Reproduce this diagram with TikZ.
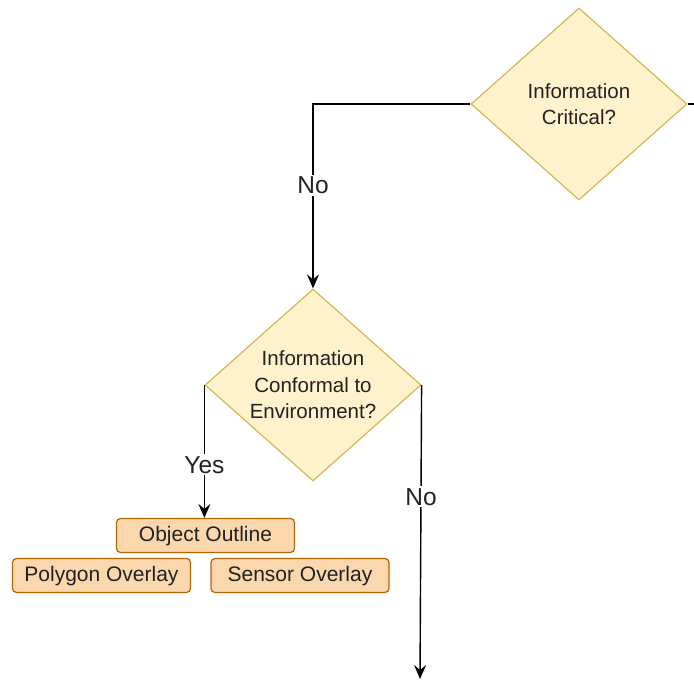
\documentclass[tikz,border=0pt]{standalone}
\usepackage{fontspec}
\setmainfont{Liberation Sans}
\usetikzlibrary{shapes.geometric,arrows.meta}
\definecolor{decfill}{HTML}{FFF2CC}
\definecolor{decdraw}{HTML}{D6B656}
\definecolor{boxfill}{HTML}{FAD7AC}
\definecolor{boxdraw}{HTML}{B46504}
\definecolor{ink}{HTML}{222222}
\begin{document}
\begin{tikzpicture}[x=1pt,y=-1pt,
  decision/.style={diamond,aspect=1.125,draw=decdraw,fill=decfill,line width=1.2pt,
    minimum width=216pt,minimum height=192pt,inner sep=0pt,align=center,text=ink,
    font=\fontsize{20.5}{26.5}\selectfont},
  leaf/.style={rectangle,rounded corners=4pt,draw=boxdraw,fill=boxfill,line width=1.2pt,
    minimum width=178pt,minimum height=34pt,inner sep=0pt,text=ink,
    text height=14pt,text depth=3pt,
    font=\fontsize{21}{24}\selectfont},
  flow/.style={line width=1.4pt,black},
  arrowflow/.style={flow,-{Stealth[length=14pt,width=12pt,inset=5pt]}},
  lbl/.style={fill=white,inner sep=2pt,text=ink,font=\fontsize{24.5}{28}\selectfont}]
\useasboundingbox[fill=white] (0,0) rectangle (694,681);

% decisions
\node[decision] (crit) at (579,104) {Information\\Critical?};
\node[decision] (conf) at (313,385) {Information\\Conformal to\\Environment?};

% outcome boxes
\node[leaf] (outline) at (205.5,535.5) {Object Outline};
\node[leaf] (poly) at (101.5,575.5) {Polygon Overlay};
\node[leaf] (sensor) at (300,575.5) {Sensor Overlay};

% free ends
\coordinate (critout) at (694,104);
\coordinate (noend) at (420,679);

% connectors
\draw[flow] (crit.east) -- (critout);
\draw[arrowflow] (crit.west) -| node[lbl,pos=0.72] {No} (conf.north);
\draw[arrowflow] (conf.west) -- node[lbl,pos=0.6] {Yes} (conf.west |- outline.north);
\draw[arrowflow] (conf.east) -- node[lbl,pos=0.38] {No} (noend);
\end{tikzpicture}
\end{document}
